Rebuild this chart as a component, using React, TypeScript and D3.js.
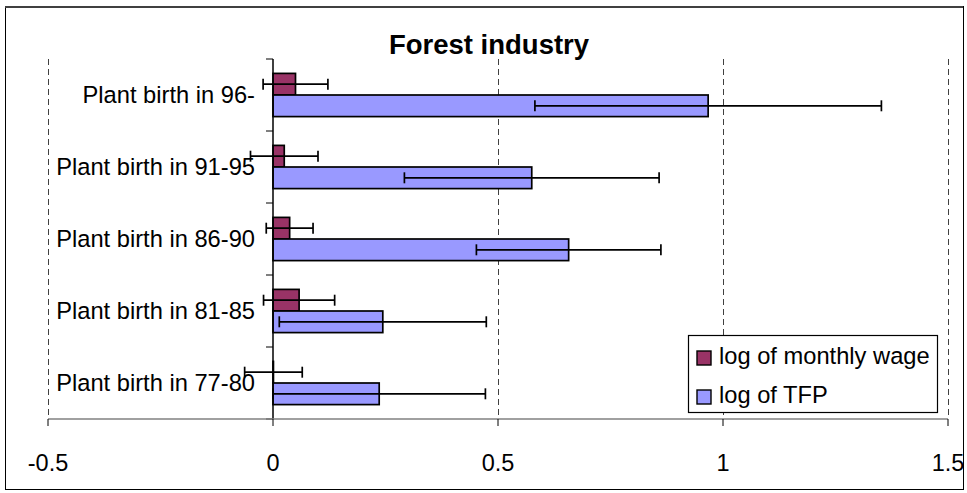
import React from "react";
import * as d3 from "d3";

const categories = [
  "Plant birth in 96-",
  "Plant birth in 91-95",
  "Plant birth in 86-90",
  "Plant birth in 81-85",
  "Plant birth in 77-80",
];
const seriesNames = ["log of monthly wage", "log of TFP"];
const wageValues = [0.05, 0.025, 0.037, 0.058, 0.001];
const wageErrors = [0.072, 0.075, 0.052, 0.079, 0.064];
const tfpValues = [0.967, 0.575, 0.657, 0.244, 0.236];
const tfpErrors = [0.385, 0.283, 0.205, 0.23, 0.236];
const xTicks = [-0.5, 0, 0.5, 1, 1.5];
const xTickLabels = ["-0.5", "0", "0.5", "1", "1.5"];

const W = 967;
const H = 493;
const FONT = "'Liberation Sans', Arial, sans-serif";
const colors = ["#993366", "#9999FF"];

export default function App() {
  const x = d3.scaleLinear().domain([-0.5, 1.5]).range([48, 948]);
  const y = d3
    .scaleBand<string>()
    .domain(categories)
    .range([59, 419])
    .paddingInner(0.4)
    .paddingOuter(0.2);
  const inner = d3
    .scaleBand<string>()
    .domain(seriesNames)
    .range([0, y.bandwidth()]);

  const series = [
    { name: seriesNames[0], values: wageValues, errors: wageErrors, color: colors[0] },
    { name: seriesNames[1], values: tfpValues, errors: tfpErrors, color: colors[1] },
  ];

  const plotTop = 59;
  const plotBottom = 419;
  const x0 = x(0);
  const capH = 11;

  return (
    <svg
      width={W}
      height={H}
      style={{ position: "absolute", left: 0, top: 0, background: "#fff" }}
      fontFamily={FONT}
    >
      <rect x={0} y={0} width={W} height={H} fill="#fff" />
      {/* outer border */}
      <line x1={5.5} y1={6} x2={5.5} y2={489} stroke="#000" strokeWidth={1} />
      <line x1={5} y1={7} x2={963} y2={7} stroke="#404040" strokeWidth={2} />
      <line x1={963.5} y1={6} x2={963.5} y2={489} stroke="#000" strokeWidth={1} />
      <line x1={5} y1={489.5} x2={964} y2={489.5} stroke="#000" strokeWidth={1} />

      {/* title */}
      <text
        x={489}
        y={54}
        textAnchor="middle"
        fontSize={27.5}
        fontWeight="bold"
        fill="#000"
      >
        Forest industry
      </text>

      {/* dashed gridlines */}
      {xTicks
        .filter((t) => t !== 0)
        .map((t) => (
          <line
            key={"g" + t}
            x1={Math.round(x(t)) + 0.5}
            x2={Math.round(x(t)) + 0.5}
            y1={plotTop}
            y2={plotBottom}
            stroke="#404040"
            strokeWidth={1}
            strokeDasharray="6,4"
          />
        ))}

      {/* bars */}
      {series.map((s) =>
        categories.map((c, i) => {
          const v = s.values[i];
          const by = (y(c) as number) + (inner(s.name) as number);
          const bh = inner.bandwidth();
          return (
            <rect
              key={s.name + c}
              x={Math.min(x(v), x0)}
              y={by}
              width={Math.abs(x(v) - x0)}
              height={bh}
              fill={s.color}
              stroke="#000"
              strokeWidth={1.7}
            />
          );
        })
      )}

      {/* error bars */}
      {series.map((s) =>
        categories.map((c, i) => {
          const v = s.values[i];
          const e = s.errors[i];
          const cy = (y(c) as number) + (inner(s.name) as number) + inner.bandwidth() / 2;
          const xl = x(v - e);
          const xr = x(v + e);
          return (
            <g key={"e" + s.name + c} stroke="#000" strokeWidth={1.7}>
              <line x1={xl} x2={xr} y1={cy} y2={cy} />
              <line x1={xl} x2={xl} y1={cy - capH / 2} y2={cy + capH / 2} />
              <line x1={xr} x2={xr} y1={cy - capH / 2} y2={cy + capH / 2} />
            </g>
          );
        })
      )}

      {/* y axis */}
      <line x1={x0} x2={x0} y1={plotTop} y2={plotBottom} stroke="#000" strokeWidth={1.5} />
      {[...categories.map((c) => (y(c) as number) - y.step() * 0.2), plotBottom].map((ty, i) => (
        <line key={"yt" + i} x1={x0 - 7} x2={x0} y1={ty} y2={ty} stroke="#000" strokeWidth={1} />
      ))}
      {categories.map((c) => (
        <text
          key={"yl" + c}
          x={255}
          y={(y(c) as number) + y.bandwidth() / 2}
          dy="0.35em"
          textAnchor="end"
          fontSize={23.7}
          fill="#000"
        >
          {c}
        </text>
      ))}

      {/* x axis */}
      <line x1={x(-0.5)} x2={x(1.5)} y1={plotBottom} y2={plotBottom} stroke="#808080" strokeWidth={1.5} />
      {xTicks.map((t, i) => (
        <g key={"xt" + t}>
          <line x1={x(t)} x2={x(t)} y1={plotBottom} y2={plotBottom + 7} stroke="#000" strokeWidth={1} />
          <text x={x(t)} y={471} textAnchor="middle" fontSize={23.5} fill="#000">
            {xTickLabels[i]}
          </text>
        </g>
      ))}

      {/* legend */}
      <rect x={688.5} y={335.5} width={249} height={77} fill="#fff" stroke="#000" strokeWidth={1.2} />
      {series.map((s, i) => (
        <g key={"lg" + s.name}>
          <rect
            x={697}
            y={351 + i * 39}
            width={14}
            height={14}
            fill={s.color}
            stroke="#000"
            strokeWidth={1.4}
          />
          <text x={719} y={364 + i * 39} fontSize={23.7} fill="#000">
            {s.name}
          </text>
        </g>
      ))}
    </svg>
  );
}
